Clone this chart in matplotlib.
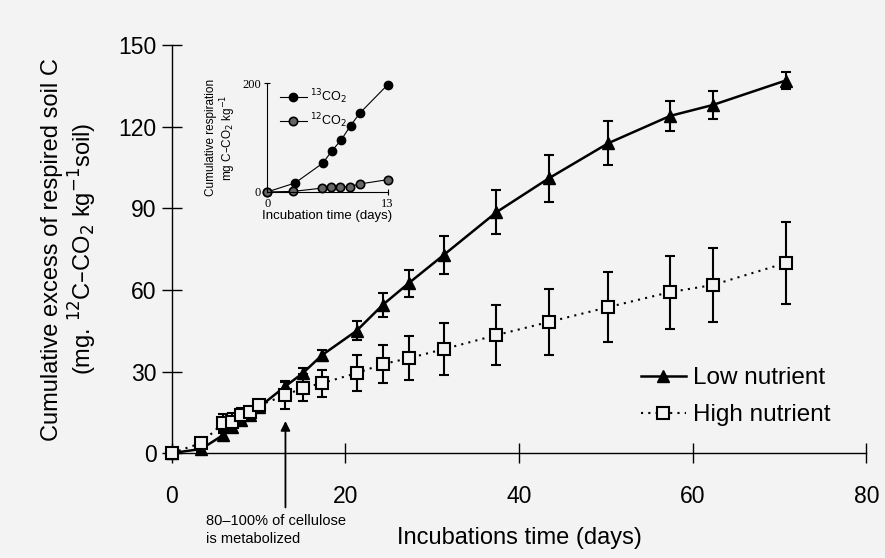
import matplotlib
matplotlib.use("Agg")
import matplotlib.pyplot as plt
from matplotlib.lines import Line2D

plt.rcParams['font.family'] = ['Liberation Sans', 'DejaVu Sans']

# ---- main data ----
days = [0, 3.4, 5.9, 7.0, 8.0, 9.0, 10.1, 13.1, 15.1, 17.3, 21.3, 24.3, 27.3, 31.3,
        37.4, 43.4, 50.3, 57.4, 62.3, 70.7]
low_vals = [0, 1.5, 6.6, 9.6, 12, 14, 17, 24.6, 29.4, 36, 45, 54.5, 62.5, 72.8,
            88.6, 101, 114, 124, 128, 137]
low_err = [0.5, 1, 1.5, 1.5, 1.5, 1.5, 1.5, 2, 2, 2, 3.5, 4.5, 5, 7,
           8, 8.5, 8, 5.5, 5, 3]
high_vals = [0, 3.7, 11, 11.4, 14, 15, 17.6, 21.3, 24, 25.7, 29.4, 32.7, 34.9, 38.2,
             43.4, 48.2, 53.7, 59.2, 61.8, 69.9]
high_err = [0.5, 1.5, 3.5, 3.5, 2.5, 2, 2, 5, 5, 5, 6.5, 7, 8, 9.5,
            11, 12, 13, 13.4, 13.6, 15]

# ---- inset data ----
inset_days_13 = [0, 3.0, 6.0, 7.0, 8.0, 9.0, 10.0, 13.0]
co2_13 = [0, 16.5, 53, 76, 96, 122, 145, 197]
inset_days_12 = [0, 2.8, 5.9, 6.9, 7.9, 8.9, 10.0, 13.0]
co2_12 = [0, 1, 7, 8.5, 9, 10, 14.7, 22.6]

bg = '#f3f3f3'
fig = plt.figure(figsize=(8.85, 5.58), dpi=100, facecolor=bg)
ax = fig.add_axes([0.194, 0.188, 0.785, 0.731], facecolor=bg)

high_ls = (0, (1, 2.5))
ax.errorbar(days, low_vals, yerr=low_err, color='black', lw=1.8, marker='^',
            ms=8, mfc='black', mec='black', capsize=3.5, capthick=1.5,
            elinewidth=1.5, clip_on=False, zorder=3)
ax.errorbar(days, high_vals, yerr=high_err, color='black', lw=1.5, ls=high_ls,
            marker='s', ms=8, mfc=bg, mec='black', mew=1.5, capsize=3.5,
            capthick=1.5, elinewidth=1.5, clip_on=False, zorder=3)

ax.set_xlim(0, 80)
ax.set_ylim(0, 150)
ax.set_xticks([0, 20, 40, 60, 80])
ax.set_yticks([0, 30, 60, 90, 120, 150])
for s in ['top', 'right']:
    ax.spines[s].set_visible(False)
for s in ['left', 'bottom']:
    ax.spines[s].set_linewidth(1.0)
ax.tick_params(axis='y', direction='inout', length=14, width=1.0,
               labelsize=16.5, pad=4)
ax.tick_params(axis='x', direction='inout', length=14, width=1.0,
               labelsize=16.5, pad=16)
ax.set_xlabel('Incubations time (days)', fontsize=17, labelpad=14)
ax.set_ylabel('Cumulative excess of respired soil C\n'
              '(mg. $^{12}$C–CO$_2$ kg$^{-1}$soil)', fontsize=17, labelpad=14,
              linespacing=1.15)

handles = [Line2D([], [], color='black', lw=1.8, marker='^', ms=8, mfc='black'),
           Line2D([], [], color='black', lw=1.5, ls=high_ls, marker='s', ms=8,
                  mfc=bg, mec='black', mew=1.5)]
fig.legend(handles, ['Low nutrient', 'High nutrient'], loc='center left',
           bbox_to_anchor=(0.724, 0.289), frameon=False, fontsize=17.5,
           handlelength=1.85, handletextpad=0.3, labelspacing=0.6,
           borderpad=0, borderaxespad=0)

# arrow annotation
ax.annotate('', xy=(13.1, 12.8), xytext=(13.1, -21),
            arrowprops=dict(arrowstyle='-|>', color='black', lw=1.3,
                            mutation_scale=14),
            annotation_clip=False)
ax.text(4.0, -22.5, '80–100% of cellulose\nis metabolized', fontsize=10.5,
        ha='left', va='top', linespacing=1.3)

# ---- inset ----
ins = fig.add_axes([0.302, 0.656, 0.136, 0.195], facecolor=bg)
ins.plot(inset_days_13, co2_13, color='black', lw=0.8, marker='o', ms=6,
         mfc='black', mec='black', clip_on=False, label='$^{13}$CO$_2$')
ins.plot(inset_days_12, co2_12, color='black', lw=0.8, marker='o', ms=6,
         mfc='#666666', mec='black', mew=1.2, clip_on=False, label='$^{12}$CO$_2$')
ins.set_xlim(0, 13)
ins.set_ylim(0, 200)
ins.set_xticks([0, 13])
ins.set_yticks([0, 200])
for s in ['top', 'right']:
    ins.spines[s].set_visible(False)
for s in ['left', 'bottom']:
    ins.spines[s].set_linewidth(0.8)
ins.tick_params(axis='both', direction='inout', length=5, width=0.8,
                labelsize=9, pad=2)
for lab in ins.get_xticklabels() + ins.get_yticklabels():
    lab.set_family('Liberation Serif')
ins.set_xlabel('Incubation time (days)', fontsize=9.5, labelpad=0)
ins.set_ylabel('Cumulative respiration\nmg C–CO$_2$ kg$^{-1}$', fontsize=8.5,
               labelpad=3, linespacing=1.1)
ins.legend(loc='upper left', bbox_to_anchor=(0.05, 1.02), frameon=False,
           fontsize=9, handlelength=2.2, handletextpad=0.2, labelspacing=0.45,
           borderaxespad=0.1)

fig.savefig('out.png', dpi=100, facecolor=bg)
